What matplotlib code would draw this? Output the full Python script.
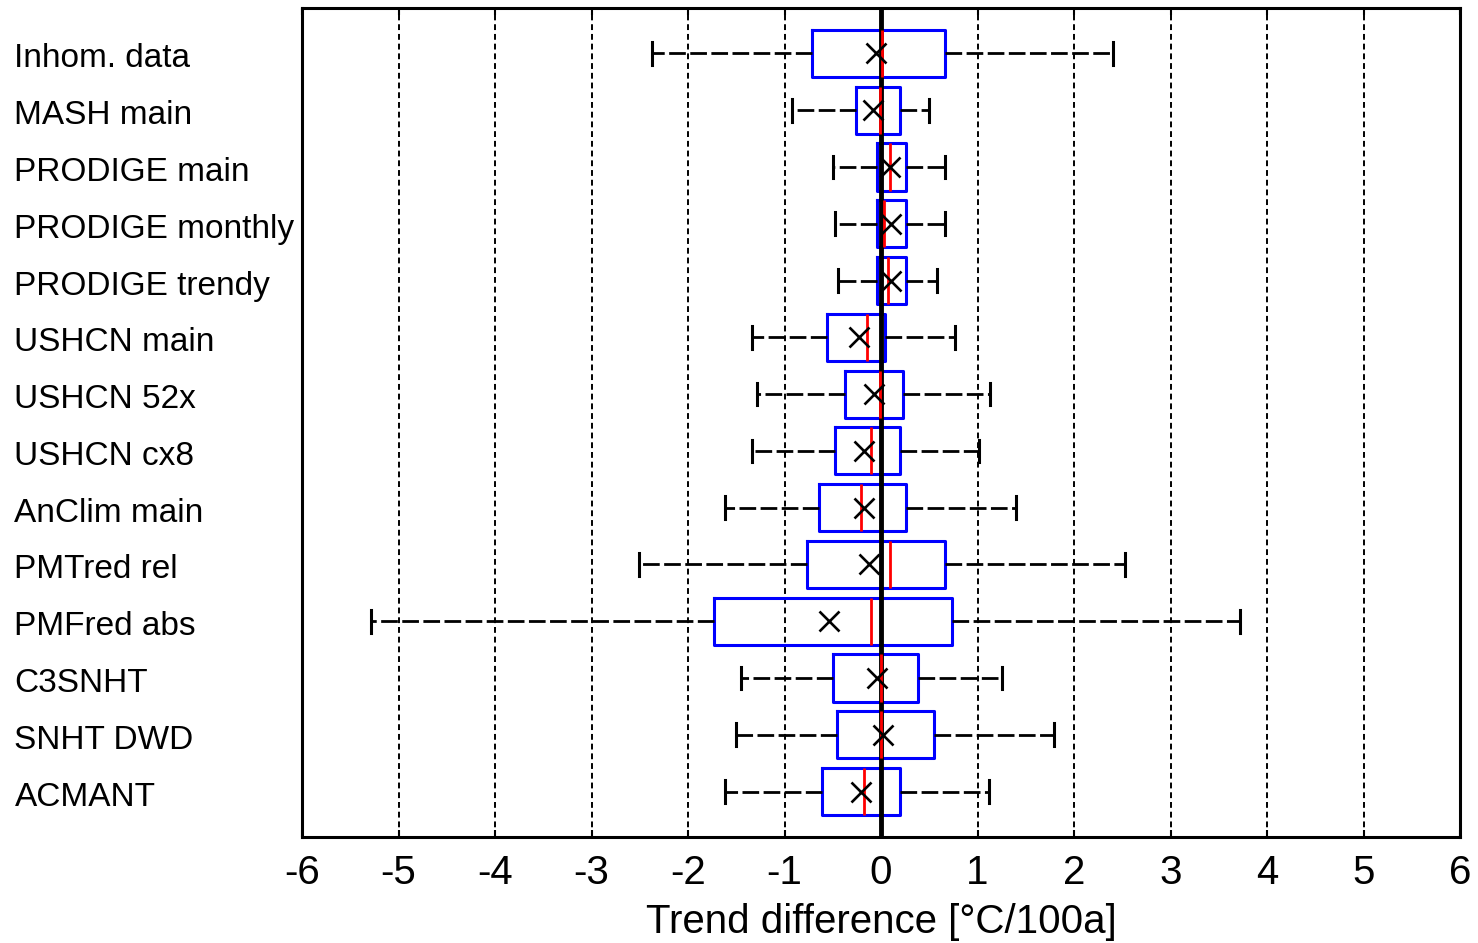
import matplotlib
matplotlib.use("Agg")
import matplotlib.pyplot as plt
from matplotlib.transforms import ScaledTranslation

plt.rcParams.update({"font.family": ["Liberation Sans", "DejaVu Sans"],
                     "axes.unicode_minus": False})

# trend difference statistics per method (°C/100a), top row first
labels = ["Inhom. data", "MASH main", "PRODIGE main", "PRODIGE monthly",
          "PRODIGE trendy", "USHCN main", "USHCN 52x", "USHCN cx8",
          "AnClim main", "PMTred rel", "PMFred abs", "C3SNHT", "SNHT DWD",
          "ACMANT"]
whislo = [-2.37, -0.92, -0.50, -0.48, -0.45, -1.34, -1.29, -1.34, -1.62,
          -2.51, -5.28, -1.45, -1.50, -1.62]
q1 = [-0.72, -0.26, -0.04, -0.04, -0.04, -0.56, -0.37, -0.48, -0.64,
      -0.77, -1.73, -0.50, -0.46, -0.61]
med = [0.015, -0.015, 0.09, 0.03, 0.07, -0.15, -0.01, -0.10, -0.21,
       0.09, -0.10, 0.0, 0.0, -0.18]
q3 = [0.66, 0.20, 0.26, 0.26, 0.26, 0.04, 0.23, 0.20, 0.26,
      0.66, 0.74, 0.38, 0.55, 0.20]
whishi = [2.40, 0.50, 0.66, 0.66, 0.58, 0.77, 1.13, 1.02, 1.40,
          2.53, 3.72, 1.25, 1.79, 1.12]
mean = [-0.05, -0.08, 0.09, 0.10, 0.10, -0.23, -0.07, -0.18, -0.18,
        -0.12, -0.54, -0.04, 0.02, -0.21]

stats = [dict(label=l, whislo=a, q1=b, med=c, q3=d, whishi=e, mean=m, fliers=[])
         for l, a, b, c, d, e, m in zip(labels, whislo, q1, med, q3, whishi, mean)]
pos = list(range(1, len(labels) + 1))

fig = plt.figure(figsize=(14.78, 9.43), dpi=100)
ax = fig.add_axes([302 / 1478, 106 / 943, 1158 / 1478, 829 / 943])

# dashed grid at every integer
for x in range(-5, 6):
    ax.axvline(x, color="k", lw=1.4, ls=(0, (3, 2)), zorder=1)

ax.bxp(stats, positions=pos, vert=False, widths=0.83, capwidths=0.4,
       showmeans=True, showfliers=False,
       boxprops=dict(color="blue", lw=2.2),
       whiskerprops=dict(color="k", lw=2.0, ls=(0, (6, 1.6))),
       capprops=dict(color="k", lw=2.2),
       medianprops=dict(color="red", lw=2.0, zorder=4),
       meanprops=dict(marker="x", color="k", mec="k", ms=14, mew=1.9,
                      zorder=5))
ax.axvline(0, color="k", lw=3.5, zorder=3.5)

ax.set_xlim(-6, 6)
ax.set_ylim(14.8, 0.2)
ax.set_xticks(range(-6, 7))
ax.tick_params(axis="x", direction="in", top=True, length=5, width=1.5,
               labelsize=29, pad=12)
ax.set_yticks(pos)
ax.set_yticklabels(labels, fontsize=24, ha="left")
ax.tick_params(axis="y", length=0, pad=207)
off = ScaledTranslation(0, -0.02, fig.dpi_scale_trans)
for lbl in ax.get_yticklabels():
    lbl.set_transform(lbl.get_transform() + off)
ax.set_xlabel("Trend difference [°C/100a]", fontsize=29, labelpad=8)
for s in ax.spines.values():
    s.set_linewidth(2.2)

fig.savefig("out.png", dpi=100)
